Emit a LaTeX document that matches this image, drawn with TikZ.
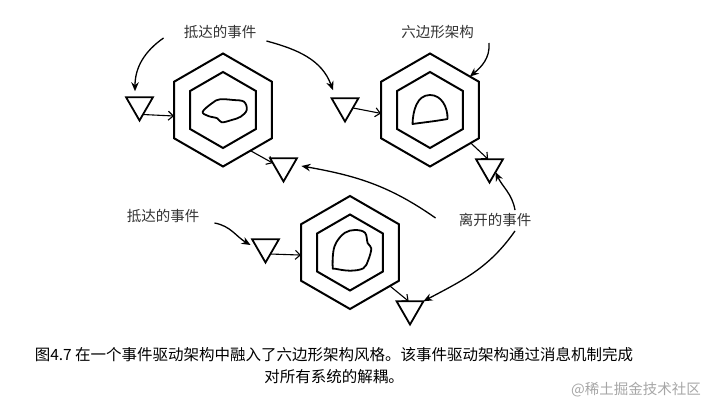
\documentclass[tikz,border=0pt]{standalone}
\usepackage{fontspec}
\newfontfamily\cjk{Noto Sans CJK SC}
\usetikzlibrary{arrows.meta,shapes.geometric}

\begin{document}
\begin{tikzpicture}[x=1pt, y=1pt,
  hexo/.style={regular polygon, regular polygon sides=6, shape border rotate=30, draw,
               line width=2pt, minimum size=113pt, inner sep=0pt, outer sep=0pt},
  hexi/.style={hexo, minimum size=76pt},
  evt/.style={regular polygon, regular polygon sides=3, shape border rotate=180, draw,
              line width=1.8pt, minimum size=31pt, inner sep=0pt, outer sep=0pt},
  blob/.style={line width=1.8pt, line join=round},
  lbl/.style={font=\cjk\fontsize{14.5}{17}\selectfont, text=black!80, inner sep=0pt},
  captxt/.style={font=\cjk\fontsize{15.5}{22}\selectfont, align=center, inner sep=0pt},
  wmark/.style={font=\cjk\fontsize{14.5}{17}\selectfont, text=black!35, inner sep=0pt},
  call/.style={-{Stealth[length=9pt,width=7.5pt]}, line width=1.3pt},
  flow/.style={-{Straight Barb[length=5pt,width=9pt]}, line width=1.1pt}]
  \useasboundingbox (0,0) rectangle (708,-401);
  \node[hexo] (hexL) at (223,-110) {};
  \node[hexi] (hexLi) at (hexL.center) {};
  \node[hexo] (hexR) at (430,-110) {};
  \node[hexi] (hexRi) at (hexR.center) {};
  \node[hexo] (hexB) at (350,-252.5) {};
  \node[hexi] (hexBi) at (hexB.center) {};
  \draw[blob, shift={(hexL.center)}] plot[smooth cycle, tension=0.6] coordinates
    {(-20.3,-1.7) (-10.3,7.3) (-3,10.7) (10.3,10) (21,8.3) (23.7,0) (17.7,-6.7)
     (8.7,-10) (-1.3,-12.3) (-5.7,-8.3) (-14.7,-6)};
  \draw[blob, shift={(hexR.center)}] (-17.5,-14) to[out=88, in=180] (0,15)
    to[out=0, in=88] (17.5,-9) to[out=190, in=8] cycle;
  \draw[blob, shift={(hexB.center)}] plot[smooth cycle, tension=0.6] coordinates
    {(-17.3,-14.8) (-16.7,0.8) (-13.3,10.8) (-5,19.8) (5,22.5) (15,19.8) (17.7,9.2)
     (21.3,4.2) (18.3,-7.5) (13.3,-15.8) (0,-18.2) (-15,-16.2)};
  \node[evt] (inL) at ([shift={(-83.5,5)}]hexL.center) {};
  \node[evt] (outL) at ([shift={(60.5,-56)}]hexL.center) {};
  \node[evt] (inR) at ([shift={(-85,4)}]hexR.center) {};
  \node[evt] (outR) at ([shift={(59.5,-57)}]hexR.center) {};
  \node[evt] (inB) at ([shift={(-84.5,5.5)}]hexB.center) {};
  \node[evt] (outB) at ([shift={(60,-56.5)}]hexB.center) {};
  \node[lbl] (arrT) at (220,-32) {抵达的事件};
  \node[lbl] (hexT) at (437.5,-32) {六边形架构};
  \node[lbl] (arrB) at (163,-216) {抵达的事件};
  \node[lbl] (dep) at (495,-220) {离开的事件};
  \node[captxt] (caption) at (334,-366) {图4.7 在一个事件驱动架构中融入了六边形架构风格。该事件驱动架构通过消息机制完成\\对所有系统的解耦。};
  \node[wmark] (wm) at (636,-390) {@稀土掘金技术社区};
  \draw[flow] (inL.-70) -- (hexL.187);
  \draw[flow] (hexL.-56) -- (outL.165);
  \draw[flow] (inR.-14) -- (hexR.184);
  \draw[flow] (hexR.-39) -- (outR.100);
  \draw[flow] (inB.-55) -- (hexB.183);
  \draw[flow] (hexB.-40) -- (outB.100);
  \draw[call] ([xshift=-20pt, yshift=-6pt]arrT.west) to[out=215, in=90] ([xshift=-4.5pt, yshift=6pt]inL.north);
  \draw[call] ([xshift=10pt, yshift=-9pt]arrT.east) to[out=-15, in=110] ([xshift=-12pt, yshift=8pt]inR.north);
  \draw[call] ([xshift=15pt, yshift=-11pt]hexT.east) to[out=-85, in=40] (hexR.40);
  \draw[call] ([xshift=-23pt, yshift=2pt]dep.west) to[out=145, in=-10] ([xshift=9pt]outL.east);
  \draw[call] ([xshift=20pt, yshift=3pt]dep.north) to[out=100, in=-65] (outR.-40);
  \draw[call] ([xshift=20pt, yshift=-4pt]dep.south) to[out=-125, in=28] (outB.30);
  \draw[call] ([xshift=15pt, yshift=-7pt]arrB.east) to[out=-10, in=150] ([xshift=-6pt, yshift=2pt]inB.west);
\end{tikzpicture}
\end{document}
